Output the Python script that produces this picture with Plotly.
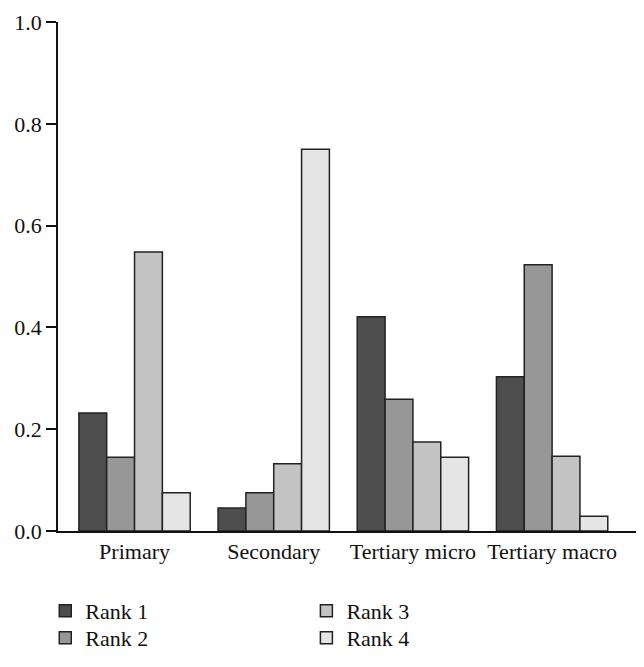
import plotly.graph_objects as go

categories = ["Primary", "Secondary", "Tertiary micro", "Tertiary macro"]
rank1 = [0.232, 0.045, 0.421, 0.303]
rank2 = [0.145, 0.075, 0.259, 0.523]
rank3 = [0.548, 0.132, 0.175, 0.147]
rank4 = [0.075, 0.750, 0.145, 0.029]
series_names = ["Rank 1", "Rank 2", "Rank 3", "Rank 4"]
colors = ["#4d4d4d", "#979797", "#c3c3c3", "#e5e5e5"]
y_ticks = [0.0, 0.2, 0.4, 0.6, 0.8, 1.0]

FONT = "Liberation Serif"
FS = 22
legend_ids = ["legend", "legend2", "legend3", "legend4"]
fig = go.Figure()
for i, (name, vals, col) in enumerate(zip(series_names, [rank1, rank2, rank3, rank4], colors)):
    fig.add_trace(go.Bar(
        x=categories, y=vals, name=name, showlegend=True,
        marker=dict(color=col, line=dict(color="#222222", width=1.5)),
        legend=legend_ids[i],
    ))

leg_x = [-0.022, -0.022, 0.429, 0.429]
leg_y = [-0.116, -0.169, -0.116, -0.169]
legends = {}
for lid, lx, ly in zip(legend_ids, leg_x, leg_y):
    legends[lid] = dict(x=lx, y=ly, xanchor="left", yanchor="top",
                        orientation="v", font=dict(size=FS),
                        bgcolor="rgba(0,0,0,0)")

fig.update_layout(
    width=636, height=659, showlegend=True,
    paper_bgcolor="white", plot_bgcolor="white",
    margin=dict(l=50, r=7, t=14, b=136, autoexpand=False),
    barmode="group", bargap=0.2, bargroupgap=0,
    font=dict(family=FONT, size=FS, color="#111111"),
    xaxis=dict(
        range=[-0.55, 3.61], showline=True, linecolor="#111111", linewidth=1.5,
        ticks="", showgrid=False, zeroline=False, tickfont=dict(size=FS),
        automargin=False,
    ),
    yaxis=dict(
        range=[0, 1.0], tickvals=y_ticks, tickformat=".1f",
        showline=True, linecolor="#111111", linewidth=1.5,
        ticks="outside", ticklen=10, tickwidth=1.5, tickcolor="#111111",
        showgrid=False, zeroline=False, tickfont=dict(size=FS),
        automargin=False,
    ),
    **legends,
)

fig.write_html("out.html")
